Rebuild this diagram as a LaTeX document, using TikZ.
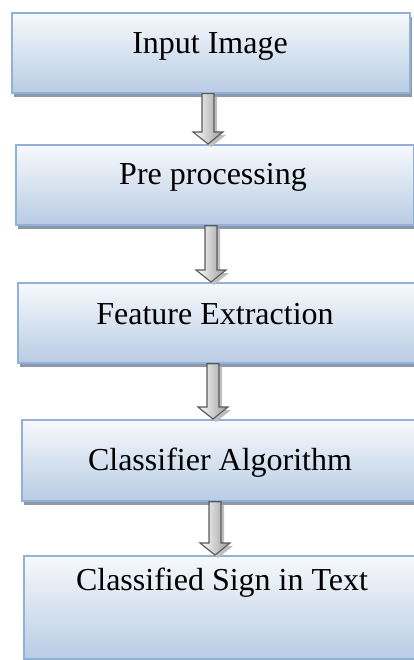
\documentclass[tikz,border=0pt]{standalone}
\usepackage{fontspec}
\setmainfont{Liberation Serif}
\usetikzlibrary{calc}

\definecolor{boxedge}{RGB}{145,177,216}
\definecolor{boxtop}{RGB}{247,249,252}
\definecolor{boxbottom}{RGB}{184,204,228}
\definecolor{boxshadow}{RGB}{140,152,170}
\definecolor{arrowedge}{RGB}{90,90,90}
\definecolor{arrowshadow}{RGB}{190,190,190}

\tikzset{
  stagebox/.style={rectangle, draw=boxedge, line width=1.7pt,
    top color=boxtop, bottom color=boxbottom, inner sep=0pt, anchor=north west},
  stageshadow/.style={fill=boxshadow, draw=none},
  stagetext/.style={anchor=base, inner sep=0pt, font=\fontsize{32}{38}\selectfont},
  flowfill/.style={draw=arrowedge, line width=1.1pt, line join=miter,
    left color=white, right color=black!40},
  flowshadow/.style={fill=arrowshadow, draw=none},
}

% stage box: name, left, top, width, height
\newcommand\stage[5]{%
  \fill[stageshadow] ({(#2+3)*1pt},{-(#3+5)*1pt}) rectangle ++({#4*1pt},{-#5*1pt});
  \node[stagebox, minimum width=#4pt, minimum height=#5pt] (#1) at ({#2*1pt},{-#3*1pt}) {};
}

% block arrow from one stage to the next, at horizontal position #3
\newcommand\flowarrow[3]{%
  \fill[flowshadow] let \p1=(#1.south), \p2=(#2.north) in
    ({(#3-6+3)*1pt},{\y1-3pt}) -- ({(#3+6+3)*1pt},{\y1-3pt}) --
    ({(#3+6+3)*1pt},{\y2+12pt-3pt}) -- ({(#3+15+3)*1pt},{\y2+12pt-3pt}) --
    ({(#3+3)*1pt},{\y2-3pt}) -- ({(#3-15+3)*1pt},{\y2+12pt-3pt}) --
    ({(#3-6+3)*1pt},{\y2+12pt-3pt}) -- cycle;
  \draw[flowfill] let \p1=(#1.south), \p2=(#2.north) in
    ({(#3-6)*1pt},\y1) -- ({(#3+6)*1pt},\y1) --
    ({(#3+6)*1pt},{\y2+12pt}) -- ({(#3+15)*1pt},{\y2+12pt}) --
    ({#3*1pt},\y2) -- ({(#3-15)*1pt},{\y2+12pt}) --
    ({(#3-6)*1pt},{\y2+12pt}) -- cycle;
}

\begin{document}
\begin{tikzpicture}[x=1pt, y=1pt]
  \useasboundingbox (0,-660) rectangle (413,0);

  % stages
  \stage{b1}{11}{12}{398}{80}
  \stage{b2}{15}{144}{398}{80}
  \stage{b3}{17}{282}{397}{80}
  \stage{b4}{21}{419}{393}{81}
  \stage{b5}{23}{555}{391}{103}

  % captions
  \node[stagetext] (t1) at (210,-54) {Input Image};
  \node[stagetext] (t2) at (213,-185) {Pre processing};
  \node[stagetext] (t3) at (215,-324) {Feature Extraction};
  \node[stagetext] (t4) at (220,-470) {Classifier Algorithm};
  \node[stagetext] (t5) at (222,-590) {Classified Sign in Text};

  % flow between stages
  \flowarrow{b1}{b2}{208}
  \flowarrow{b2}{b3}{211}
  \flowarrow{b3}{b4}{213}
  \flowarrow{b4}{b5}{215}
\end{tikzpicture}
\end{document}
